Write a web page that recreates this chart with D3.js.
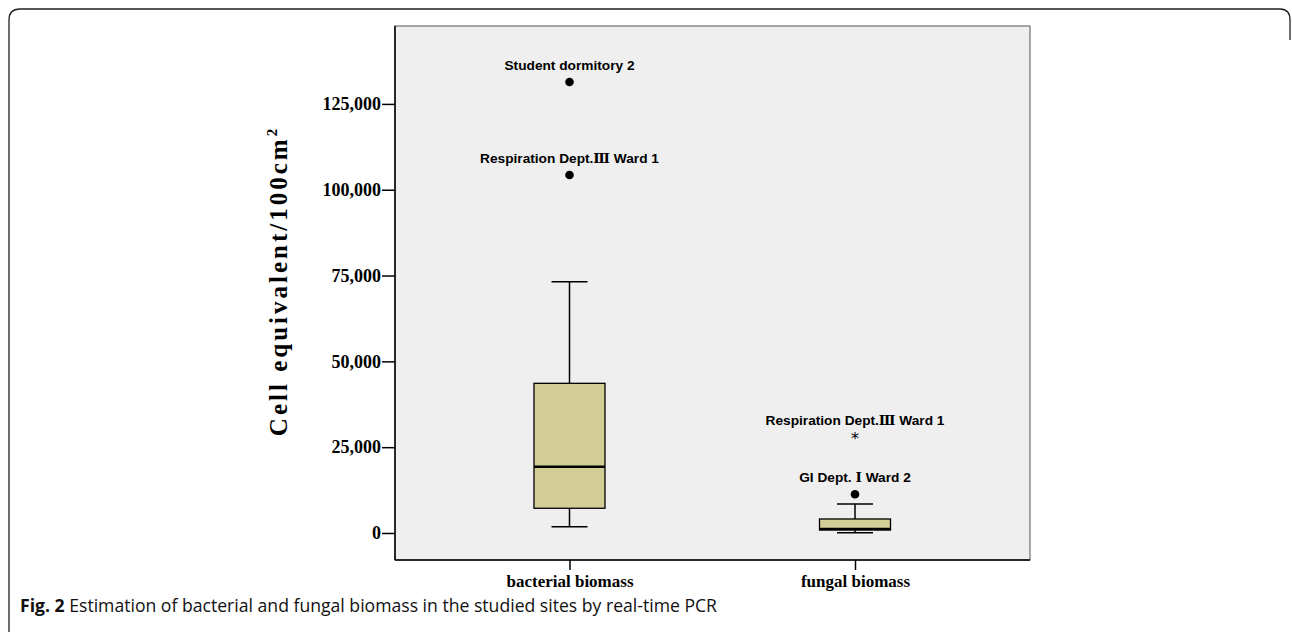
<!DOCTYPE html>
<html>
<head>
<meta charset="utf-8">
<script src="https://cdn.jsdelivr.net/npm/d3@7"></script>
<style>
  body { margin: 0; background: #fff; }
  svg { display: block; }
</style>
</head>
<body>
<div id="chart"></div>
<script>
// data
var groups = ["bacterial biomass", "fungal biomass"];
var whiskerLow = [1800, 100];
var q1 = [7200, 870];
var median = [19300, 1170];
var q3 = [43600, 4080];
var whiskerHigh = [73200, 8450];
var outlierGroup = ["bacterial biomass", "bacterial biomass", "fungal biomass", "fungal biomass"];
var outlierValue = [131400, 104300, 27900, 11300];
var outlierLabel = ["Student dormitory 2", "Respiration Dept.\u2162 Ward 1", "Respiration Dept.\u2162 Ward 1", "GI Dept. \u2160 Ward 2"];
var outlierExtreme = [false, false, true, false];
var yTicks = [0, 25000, 50000, 75000, 100000, 125000];

function drawChart() {
    var w = 1292, h = 632;
    var left = 395, right = 1030, top = 26, bottom = 560;
    var serif = "'Liberation Serif', 'Times New Roman', serif";

    var svg = d3.select("#chart").append("svg")
        .attr("width", w)
        .attr("height", h);

    // outer frame of the figure (right side fades out in the source)
    svg.append("path")
        .attr("d", "M9,632 L9,20 Q9,9 20,9 L1280,9 Q1290,9 1290,20 L1290,40")
        .attr("fill", "none")
        .attr("stroke", "#222")
        .attr("stroke-width", 1.3);

    var y = d3.scaleLinear()
        .domain([-7870, 147700])
        .range([bottom, top]);

    var x = d3.scalePoint()
        .domain(groups)
        .range([569.5, 855]);

    // plot area
    svg.append("rect")
        .attr("x", left).attr("y", top)
        .attr("width", right - left).attr("height", bottom - top)
        .attr("fill", "#efefef")
        .attr("stroke", "#555")
        .attr("stroke-width", 1);

    svg.append("line") //left axis line
        .attr("x1", left).attr("x2", left)
        .attr("y1", top).attr("y2", bottom)
        .attr("stroke", "#000").attr("stroke-width", 1.5);
    svg.append("line") //bottom axis line
        .attr("x1", left).attr("x2", right)
        .attr("y1", bottom).attr("y2", bottom)
        .attr("stroke", "#000").attr("stroke-width", 1.5);

    // y axis
    var yAxis = svg.append("g")
        .attr("transform", "translate(" + left + ",0)")
        .call(d3.axisLeft(y).tickValues(yTicks).tickSize(13).tickPadding(1)
            .tickFormat(d3.format(",")));
    yAxis.select(".domain").remove();
    yAxis.selectAll("line").attr("stroke", "#000").attr("stroke-width", 1.5);
    yAxis.selectAll("text")
        .attr("fill", "#000")
        .style("font-family", serif)
        .style("font-weight", "bold")
        .style("font-size", "18px");

    // x axis
    var xAxis = svg.append("g")
        .attr("transform", "translate(0," + bottom + ")")
        .call(d3.axisBottom(x).tickSize(10).tickPadding(5));
    xAxis.select(".domain").remove();
    xAxis.selectAll("line").attr("stroke", "#000").attr("stroke-width", 1.5);
    xAxis.selectAll("text")
        .attr("fill", "#000")
        .style("font-family", serif)
        .style("font-weight", "bold")
        .style("font-size", "17px");

    // y axis title
    svg.append("text")
        .attr("transform", "translate(287,281) rotate(-90)")
        .attr("text-anchor", "middle")
        .style("font-family", serif)
        .style("font-weight", "bold")
        .style("font-size", "25px")
        .style("letter-spacing", "3px")
        .html("Cell equivalent/100cm<tspan dy='-10' font-size='15px'>2</tspan>");

    var boxW = 71, capW = 36;
    var boxes = groups.map(function(g, i) {
        return {g: g, lo: whiskerLow[i], q1: q1[i], med: median[i], q3: q3[i], hi: whiskerHigh[i]};
    });

    var b = svg.selectAll("g.box").data(boxes).enter().append("g").attr("class", "box");

    b.append("line") //whisker stem
        .attr("x1", function(d) { return x(d.g); })
        .attr("x2", function(d) { return x(d.g); })
        .attr("y1", function(d) { return y(d.lo); })
        .attr("y2", function(d) { return y(d.hi); })
        .attr("stroke", "#000").attr("stroke-width", 1.5);
    b.append("line") //upper cap
        .attr("x1", function(d) { return x(d.g) - capW / 2; })
        .attr("x2", function(d) { return x(d.g) + capW / 2; })
        .attr("y1", function(d) { return y(d.hi); })
        .attr("y2", function(d) { return y(d.hi); })
        .attr("stroke", "#000").attr("stroke-width", 1.5);
    b.append("line") //lower cap
        .attr("x1", function(d) { return x(d.g) - capW / 2; })
        .attr("x2", function(d) { return x(d.g) + capW / 2; })
        .attr("y1", function(d) { return y(d.lo); })
        .attr("y2", function(d) { return y(d.lo); })
        .attr("stroke", "#000").attr("stroke-width", 1.5);
    b.append("rect")
        .attr("x", function(d) { return x(d.g) - boxW / 2; })
        .attr("y", function(d) { return y(d.q3); })
        .attr("width", boxW)
        .attr("height", function(d) { return y(d.q1) - y(d.q3); })
        .attr("fill", "#d3ce98")
        .attr("stroke", "#000").attr("stroke-width", 1.3);
    b.append("line") //median
        .attr("x1", function(d) { return x(d.g) - boxW / 2; })
        .attr("x2", function(d) { return x(d.g) + boxW / 2; })
        .attr("y1", function(d) { return y(d.med); })
        .attr("y2", function(d) { return y(d.med); })
        .attr("stroke", "#000").attr("stroke-width", 2.5);

    // outliers
    var outliers = outlierValue.map(function(v, i) {
        return {g: outlierGroup[i], v: v, label: outlierLabel[i], ext: outlierExtreme[i]};
    });
    var o = svg.selectAll("g.outlier").data(outliers).enter().append("g").attr("class", "outlier");
    o.filter(function(d) { return !d.ext; }).append("circle")
        .attr("cx", function(d) { return x(d.g); })
        .attr("cy", function(d) { return y(d.v); })
        .attr("r", 4.3)
        .attr("fill", "#000");
    o.filter(function(d) { return d.ext; }).append("text") //extreme value marker
        .attr("x", function(d) { return x(d.g); })
        .attr("y", function(d) { return y(d.v) + 7; })
        .attr("text-anchor", "middle")
        .style("font-family", "'DejaVu Sans', sans-serif")
        .style("font-size", "16px")
        .text("*");

    var lab = o.append("text")
        .attr("x", function(d) { return x(d.g); })
        .attr("y", function(d) { return y(d.v) - 12; })
        .attr("text-anchor", "middle")
        .style("font-family", "'Liberation Sans', Arial, sans-serif")
        .style("font-weight", "bold")
        .style("font-size", "13.7px");
    // roman numerals are set in a serif face in the source, so split them out
    lab.each(function(d) {
        var t = d3.select(this);
        d.label.split(/([\u2160-\u2169])/).forEach(function(part) {
            if (part === "") return;
            var s = t.append("tspan").text(part);
            if (/[\u2160-\u2169]/.test(part)) {
                s.style("font-family", "'DejaVu Serif', 'Noto Sans CJK SC', serif");
            }
        });
    });

    // caption
    var cap = svg.append("text")
        .attr("x", 20).attr("y", 612)
        .attr("textLength", 697)
        .attr("lengthAdjust", "spacingAndGlyphs")
        .style("font-family", "'Open Sans', sans-serif")
        .style("font-size", "18.5px")
        .attr("fill", "#111");
    cap.append("tspan").style("font-weight", "bold").text("Fig. 2");
    cap.append("tspan").text(" Estimation of bacterial and fungal biomass in the studied sites by real-time PCR");
}

drawChart();
</script>
</body>
</html>
